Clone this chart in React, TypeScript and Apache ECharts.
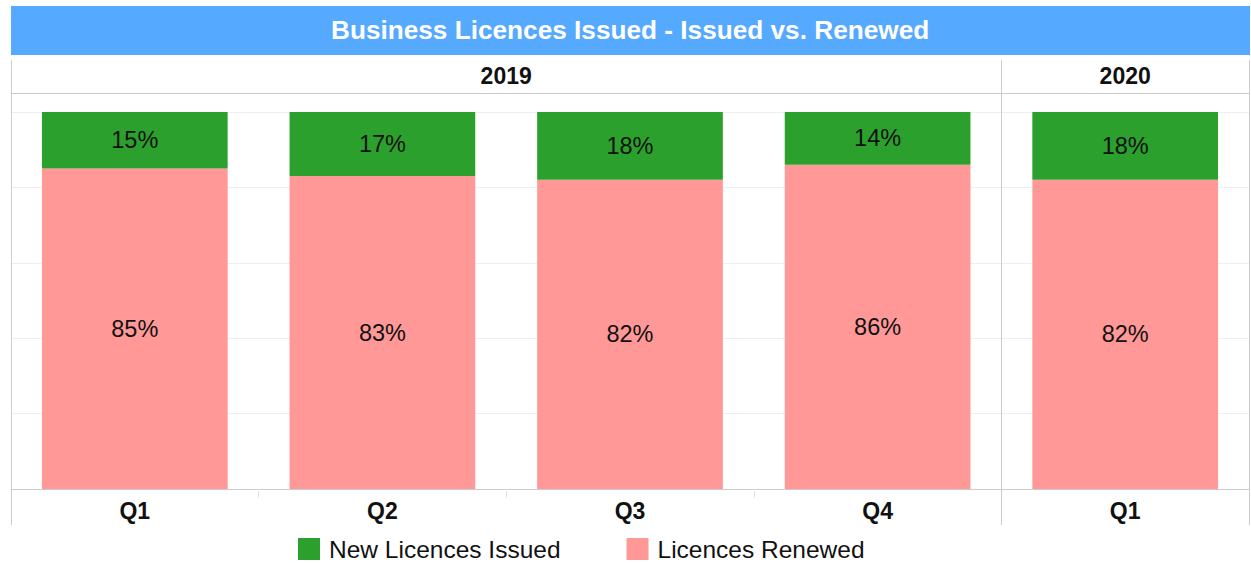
import React, { useEffect, useRef } from "react";
import * as echarts from "echarts";

const titleText = "Business Licences Issued - Issued vs. Renewed";
const quarters = ["Q1", "Q2", "Q3", "Q4", "Q1"];
const years = ["2019", "2020"];
const yearSpans = [4, 1];
const newIssued = [15, 17, 18, 14, 18];
const renewed = [85, 83, 82, 86, 82];
const seriesNames = ["New Licences Issued", "Licences Renewed"];

const FONT = '"Liberation Sans", Arial, Helvetica, sans-serif';

export default function App() {
  const ref = useRef<HTMLDivElement>(null);
  useEffect(() => {
    if (!ref.current) return;
    const chart = echarts.init(ref.current, null, { renderer: "svg" });

    // year band centres (in category units)
    const centers: number[] = [];
    let acc = 0;
    yearSpans.forEach((s) => {
      centers.push(acc + s / 2);
      acc += s;
    });
    const total = acc;

    const plotTop = 112;
    const axisTop = 93;
    const plotBottom = 489;
    const yMax = (100 * (plotBottom - axisTop)) / (plotBottom - plotTop);

    chart.setOption({
      animation: false,
      textStyle: { fontFamily: FONT },
      graphic: [
        {
          type: "rect",
          left: 11,
          top: 6,
          shape: { width: 1239, height: 49 },
          style: { fill: "#55a9ff" },
          z: 0,
        },
      ],
      title: {
        text: titleText,
        left: 331,
        top: 17,
        padding: 0,
        textStyle: {
          color: "#ffffff",
          fontSize: 26.2,
          fontWeight: "bold",
          fontFamily: FONT,
        },
      },
      legend: {
        data: seriesNames,
        left: 298,
        top: 536,
        padding: 0,
        icon: "rect",
        itemWidth: 22,
        itemHeight: 22,
        itemGap: 66,
        textStyle: {
          fontSize: 24.5,
          lineHeight: 26,
          color: "#111",
          fontFamily: FONT,
          padding: [0, 0, 0, 4],
        },
      },
      grid: {
        left: 11,
        right: 2,
        top: axisTop,
        bottom: 563 - plotBottom,
        containLabel: false,
      },
      xAxis: [
        {
          type: "category",
          data: quarters,
          position: "bottom",
          axisLine: { show: true, lineStyle: { color: "#cccccc", width: 1 } },
          axisTick: { show: true, length: 9, lineStyle: { color: "#e6e6e6" } },
          axisLabel: {
            fontSize: 23,
            fontWeight: "bold",
            color: "#111",
            margin: 10,
            fontFamily: FONT,
          },
          splitLine: { show: false },
        },
        {
          type: "value",
          position: "top",
          min: 0,
          max: total,
          interval: yearSpans[0],
          axisLine: { show: true, lineStyle: { color: "#cccccc", width: 1 } },
          axisTick: { show: true, length: 33, lineStyle: { color: "#cccccc" } },
          axisLabel: {
            show: true,
            customValues: centers,
            formatter: (v: number) => {
              const i = centers.findIndex((c) => Math.abs(c - v) < 1e-6);
              return i >= 0 ? years[i] : "";
            },
            fontSize: 23,
            fontWeight: "bold",
            color: "#111",
            margin: 6,
            fontFamily: FONT,
          },
          splitLine: { show: true, lineStyle: { color: "#cccccc", width: 1 } },
        },
        {
          type: "value",
          position: "bottom",
          min: 0,
          max: total,
          interval: yearSpans[0],
          axisLine: { show: false },
          axisTick: { show: true, length: 36, lineStyle: { color: "#cccccc" } },
          axisLabel: { show: false },
          splitLine: { show: false },
        },
      ],
      yAxis: {
        type: "value",
        min: 0,
        max: yMax,
        interval: 20,
        axisLine: { show: false },
        axisTick: { show: false },
        axisLabel: { show: false },
        splitLine: { show: true, lineStyle: { color: "#efefef", width: 1 } },
      },
      series: [
        {
          name: seriesNames[1],
          type: "bar",
          stack: "total",
          barWidth: "75%",
          data: renewed,
          itemStyle: { color: "#ff9896" },
          label: {
            show: true,
            position: "inside",
            formatter: (p: any) => `${p.value}%`,
            fontSize: 23.5,
            color: "#111",
            fontFamily: FONT,
          },
        },
        {
          name: seriesNames[0],
          type: "bar",
          stack: "total",
          barWidth: "75%",
          data: newIssued,
          itemStyle: { color: "#2ca02c" },
          label: {
            show: true,
            position: "inside",
            formatter: (p: any) => `${p.value}%`,
            fontSize: 23.5,
            color: "#111",
            fontFamily: FONT,
          },
        },
      ],
    });
    return () => chart.dispose();
  }, []);
  return (
    <div
      ref={ref}
      style={{ position: "absolute", left: 0, top: 0, width: 1251, height: 563 }}
    />
  );
}
